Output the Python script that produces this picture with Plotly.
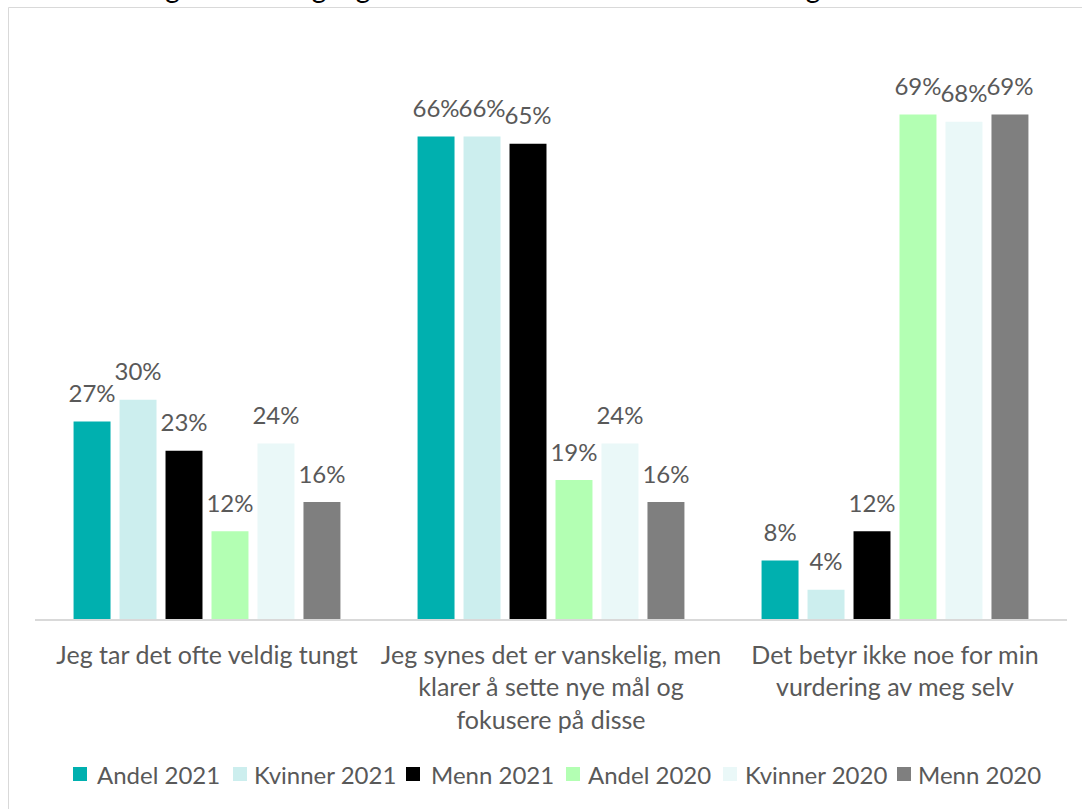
import plotly.graph_objects as go

# Response categories (x-axis), multi-line labels
categories = [
    "Jeg tar det ofte veldig tungt",
    "Jeg synes det er vanskelig, men<br>klarer å sette nye mål og<br>fokusere på disse",
    "Det betyr ikke noe for min<br>vurdering av meg selv",
]

series_names = ["Andel 2021", "Kvinner 2021", "Menn 2021", "Andel 2020", "Kvinner 2020", "Menn 2020"]

# Percent values per series, one per category
andel_2021 = [27, 66, 8]
kvinner_2021 = [30, 66, 4]
menn_2021 = [23, 65, 12]
andel_2020 = [12, 19, 69]
kvinner_2020 = [24, 24, 68]
menn_2020 = [16, 16, 69]

series_values = [andel_2021, kvinner_2021, menn_2021, andel_2020, kvinner_2020, menn_2020]
series_colors = ["#00B0AF", "#CCEEEE", "#000000", "#B3FFB3", "#EAF8F8", "#7F7F7F"]

title_text = "Hvordan reagerer du de gangene du ikke når målene du setter deg."

FONT = "Lato, 'Open Sans', sans-serif"
GREY = "#595959"

W, H = 1082, 809
ML, MR, MT, MB = 35, 15, 34, 190
PW = W - ML - MR
PH = H - MT - MB


def px_to_paper_x(px):
    return (px - ML) / PW


def px_to_paper_y(py):
    return (H - MB - py) / PH


fig = go.Figure()

for name, vals, col in zip(series_names, series_values, series_colors):
    fig.add_trace(go.Bar(
        name=name,
        x=categories,
        y=vals,
        marker=dict(color=col, line=dict(width=0)),
        hoverinfo="skip",
        showlegend=False,
    ))

# Value labels, grouped alongside the bars
for name, vals in zip(series_names, series_values):
    fig.add_trace(go.Scatter(
        x=categories,
        y=vals,
        mode="markers+text",
        text=[f"{v}%" for v in vals],
        textposition="top center",
        textfont=dict(family=FONT, size=24, color=GREY),
        marker=dict(size=20, opacity=0),
        showlegend=False,
        hoverinfo="skip",
        cliponaxis=False,
    ))

# Legend row along the bottom: colour square followed by series name
legend_marker_x = [73, 233, 406, 566, 723, 897]
legend_text_x = [95, 252, 429, 586, 743, 916]
legend_y = 774
legend_shapes = []
legend_annotations = []
for name, col, mx, tx in zip(series_names, series_colors, legend_marker_x, legend_text_x):
    legend_shapes.append(dict(
        type="rect", xref="paper", yref="paper",
        x0=px_to_paper_x(mx), x1=px_to_paper_x(mx + 14),
        y0=px_to_paper_y(legend_y + 7), y1=px_to_paper_y(legend_y - 7),
        fillcolor=col, line=dict(width=0),
    ))
    legend_annotations.append(dict(
        text=name, xref="paper", yref="paper",
        x=px_to_paper_x(tx), y=px_to_paper_y(legend_y),
        xanchor="left", yanchor="middle", showarrow=False,
        font=dict(family=FONT, size=24, color=GREY),
    ))

frame = dict(
    type="rect",
    xref="paper", yref="paper",
    x0=px_to_paper_x(8.5), x1=px_to_paper_x(1100),
    y0=px_to_paper_y(830), y1=px_to_paper_y(7.5),
    line=dict(color="#D9D9D9", width=1),
    fillcolor="rgba(0,0,0,0)",
    layer="below",
)

# Heading line sitting above the top edge of the page
title_ann = dict(
    text=title_text,
    xref="paper", yref="paper",
    x=px_to_paper_x(12), y=px_to_paper_y(6),
    xanchor="left", yanchor="bottom",
    showarrow=False,
    font=dict(family=FONT, size=28, color="#000000"),
)

fig.update_layout(
    width=W,
    height=H,
    margin=dict(l=ML, r=MR, t=MT, b=MB, pad=0),
    paper_bgcolor="white",
    plot_bgcolor="white",
    showlegend=False,
    barmode="group",
    bargap=0.198,
    bargroupgap=0.196,
    scattermode="group",
    scattergap=0.198,
    xaxis=dict(
        type="category",
        showline=True,
        linecolor="#D9D9D9",
        linewidth=1.5,
        ticks="",
        showgrid=False,
        tickfont=dict(family=FONT, size=25, color=GREY),
        ticklabelstandoff=13,
        fixedrange=True,
        automargin=False,
    ),
    yaxis=dict(range=[0, 80], visible=False, fixedrange=True),
    shapes=[frame] + legend_shapes,
    annotations=[title_ann] + legend_annotations,
)

fig.write_html("out.html")
